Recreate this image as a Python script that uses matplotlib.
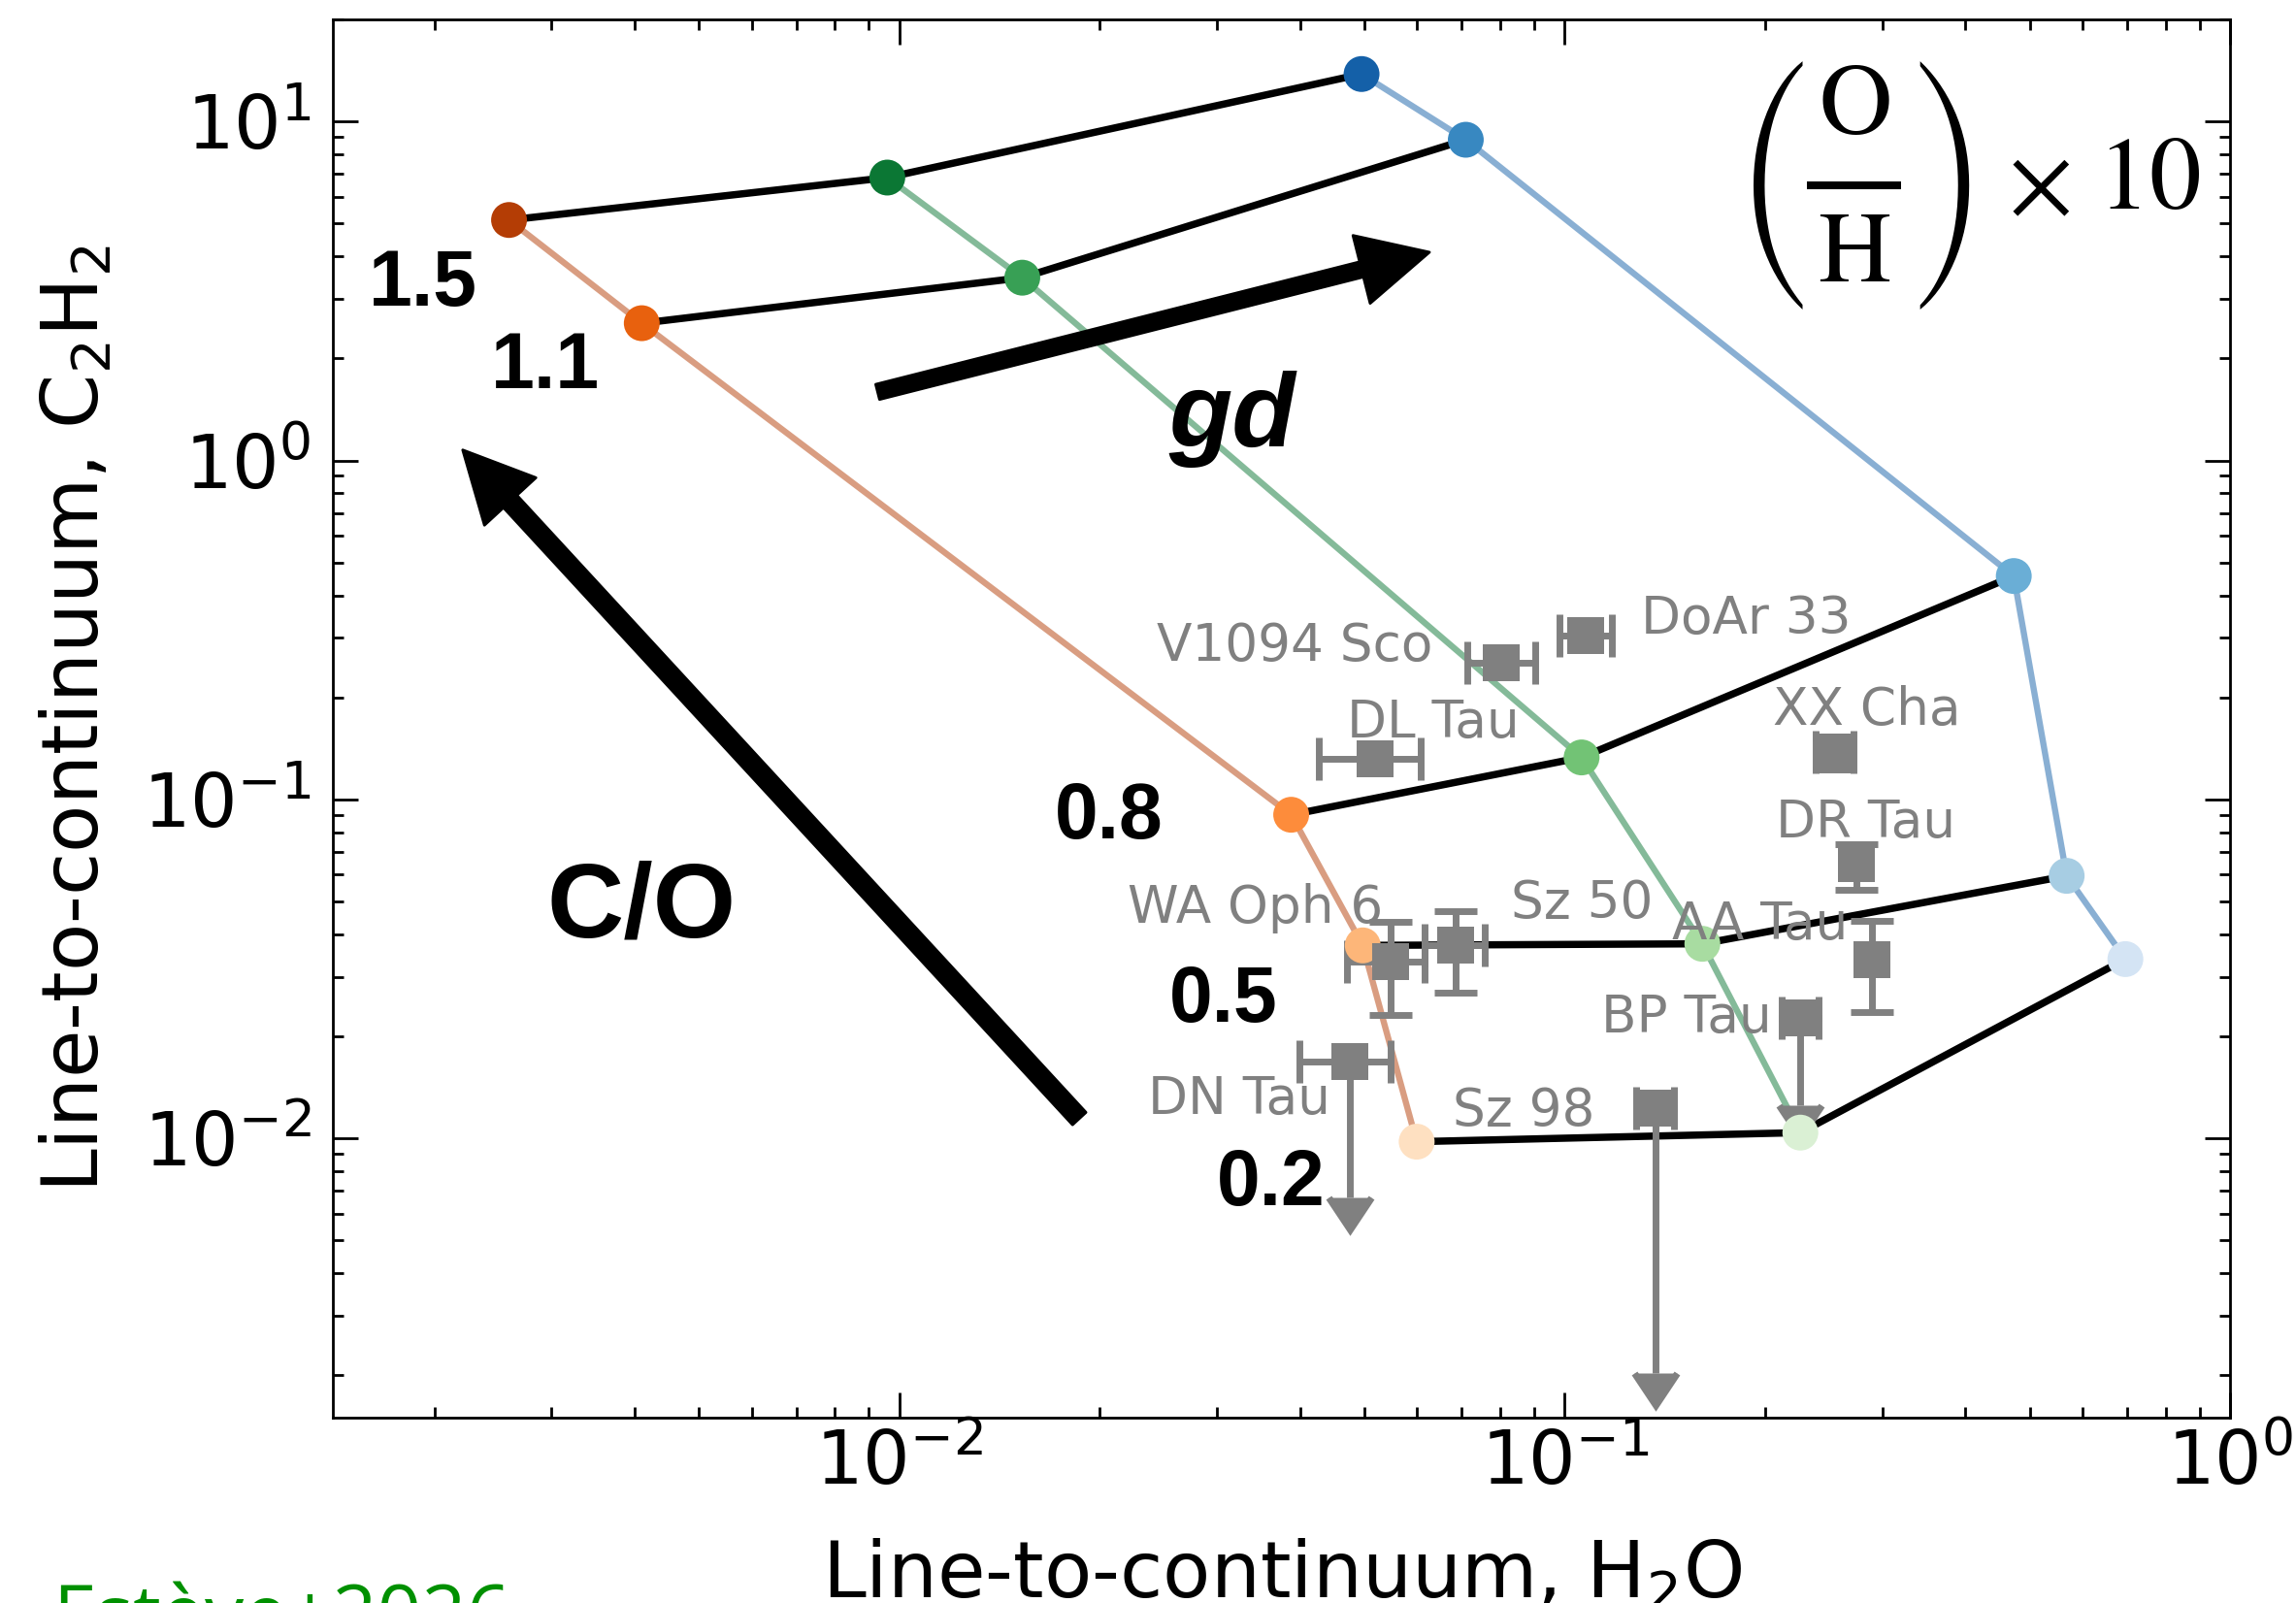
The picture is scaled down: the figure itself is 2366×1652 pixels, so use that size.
import matplotlib
matplotlib.use("Agg")
import matplotlib.pyplot as plt
from matplotlib.patches import FancyArrowPatch

# ---------------------------------------------------------------------------
# Model grid: one track per gas-to-dust ratio, one row per C/O ratio
# ---------------------------------------------------------------------------
co_labels = ["1.5", "1.1", "0.8", "0.5", "0.2"]

h2o_track_a = [0.00259, 0.00410, 0.0388, 0.0497, 0.0599]
c2h2_track_a = [5.12, 2.54, 0.0901, 0.0371, 0.00978]

h2o_track_b = [0.00959, 0.0153, 0.106, 0.161, 0.226]
c2h2_track_b = [6.83, 3.46, 0.133, 0.0375, 0.0104]

h2o_track_c = [0.0495, 0.0710, 0.473, 0.568, 0.696]
c2h2_track_c = [13.8, 8.83, 0.456, 0.0595, 0.0338]

# ---------------------------------------------------------------------------
# Observed sources (None = no error bar on that side)
# ---------------------------------------------------------------------------
source_names = ["V1094 Sco", "DoAr 33", "DL Tau", "XX Cha", "DR Tau",
                "WA Oph 6", "Sz 50", "AA Tau", "BP Tau", "DN Tau", "Sz 98"]
source_h2o = [0.0803, 0.1075, 0.0518, 0.254, 0.274,
              0.0548, 0.0685, 0.290, 0.2256, 0.0475, 0.1367]
source_h2o_lo = [0.0713, 0.0982, 0.0427, 0.238, None,
                 0.0470, 0.0616, None, 0.2115, 0.0399, 0.1282]
source_h2o_hi = [0.0902, 0.1176, 0.0608, 0.2716, None,
                 0.0616, 0.0759, None, 0.2406, 0.0548, 0.1458]
source_c2h2 = [0.2535, 0.305, 0.132, 0.138, 0.0647,
               0.0332, 0.0372, 0.0336, 0.0227, 0.0168, 0.01225]
source_c2h2_lo = [None, None, None, 0.1228, 0.0542,
                  0.0231, 0.0269, 0.0236, 0.01252, 0.00672, 0.00203]
source_c2h2_hi = [None, None, None, 0.1522, 0.0739,
                  0.0434, 0.0468, 0.0438, None, None, None]
source_upper_limit = [False, False, False, False, False,
                      False, False, False, True, True, True]

# ---------------------------------------------------------------------------
# Styling
# ---------------------------------------------------------------------------
track_colors = [
    ["#b43d05", "#e8610e", "#fd8c3b", "#fdb679", "#fee0c1"],   # oranges
    ["#0b7734", "#38a055", "#72c375", "#a8dca1", "#daf0d4"],   # greens
    ["#1460a8", "#3888c1", "#6aaed6", "#a7cde3", "#d4e4f4"],   # blues
]
gray = "#808080"
PX = 1.509 * 72 / 200.0          # label offsets below are given in 1/1.509 px

# offsets (dx, dy-down) of each source label from its point, and alignment
label_offsets = [(-47, -1), (38, -1), (-19, -14.5), (-42, -18.5), (-54.5, -17.7),
                 (-5.6, -26.6), (38, -18.2), (-16.4, -14), (-19.4, 10.1),
                 (-13.3, 35.5), (-41, 11.4)]
label_ha = ["right", "left", "left", "left", "left",
            "right", "left", "right", "right", "right", "right"]
# offsets of the C/O row labels from the orange-track points
co_offsets = [(-21.8, 58.6), (-28.9, 44.6), (-87.4, 15.8), (-58.2, 52), (-62.7, 43.3)]

plt.rcParams["font.family"] = ["DejaVu Sans"]
# tall delimiter glyphs for the abundance annotation
plt.rcParams["mathtext.rm"] = "STIXSizeThreeSym"

fig = plt.figure(figsize=(11.83, 8.26), dpi=200)
ax = fig.add_axes([0.1450, 0.1156, 0.8263, 0.8723])
ax.set_xscale("log")
ax.set_yscale("log")
ax.set_xlim(1.408e-3, 1.0)
ax.set_ylim(1.5e-3, 20.0)

tracks = [(h2o_track_a, c2h2_track_a), (h2o_track_b, c2h2_track_b),
          (h2o_track_c, c2h2_track_c)]

# coloured tracks (constant gas-to-dust ratio)
for (hx, cy), cols in zip(tracks, track_colors):
    ax.plot(hx, cy, color=cols[0], alpha=0.5, lw=2.3, zorder=1,
            solid_capstyle="round")

# black rows (constant C/O)
for i in range(len(co_labels)):
    ax.plot([t[0][i] for t in tracks], [t[1][i] for t in tracks],
            color="black", lw=2.7, zorder=1.5, solid_capstyle="round")

# grid points
for (hx, cy), cols in zip(tracks, track_colors):
    ax.scatter(hx, cy, s=13.3 ** 2, c=cols, edgecolors="none", zorder=3)

# observations
for i, name in enumerate(source_names):
    x, y = source_h2o[i], source_c2h2[i]
    xerr = None
    if source_h2o_lo[i] is not None:
        xerr = [[x - source_h2o_lo[i]], [source_h2o_hi[i] - x]]
    yerr = None
    if source_upper_limit[i]:
        yerr = [[y - source_c2h2_lo[i]], [0.0]]
    elif source_c2h2_lo[i] is not None:
        yerr = [[y - source_c2h2_lo[i]], [source_c2h2_hi[i] - y]]
    ax.errorbar([x], [y], xerr=xerr, yerr=yerr, fmt="none", ecolor=gray,
                color=gray, elinewidth=2.5, capsize=8, capthick=2.5,
                uplims=source_upper_limit[i], zorder=2)
ax.plot(source_h2o, source_c2h2, "s", color=gray, ms=13.5, mew=0,
        linestyle="none", zorder=4)

for i, name in enumerate(source_names):
    dx, dy = label_offsets[i]
    ax.annotate(name, (source_h2o[i], source_c2h2[i]),
                xytext=(dx * PX, -dy * PX), textcoords="offset points",
                ha=label_ha[i], va="baseline", fontsize=19.2, color=gray,
                zorder=5)

# C/O labels next to the first track
for i, lab in enumerate(co_labels):
    dx, dy = co_offsets[i]
    ax.annotate(lab, (h2o_track_a[i], c2h2_track_a[i]),
                xytext=(dx * PX, -dy * PX), textcoords="offset points",
                ha="right", va="baseline", fontsize=29, fontweight="bold",
                family="Liberation Sans", zorder=5)

# direction arrows
arrow_co = FancyArrowPatch((0.3934, 0.2139), (0.0684, 0.6921),
                           transform=ax.transAxes, mutation_scale=1,
                           arrowstyle="simple,head_length=26,head_width=26,tail_width=6.8",
                           color="black", shrinkA=0, shrinkB=0, zorder=5)
arrow_gd = FancyArrowPatch((0.2871, 0.7336), (0.5780, 0.8335),
                           transform=ax.transAxes, mutation_scale=1,
                           arrowstyle="simple,head_length=26,head_width=26,tail_width=5.8",
                           color="black", shrinkA=0, shrinkB=0, zorder=5)
ax.add_patch(arrow_co)
ax.add_patch(arrow_gd)

ax.text(0.1125, 0.3442, "C/O", transform=ax.transAxes, fontsize=39.5,
        fontweight="bold", family="Liberation Sans", ha="left", va="baseline")
ax.text(0.4405, 0.6945, "gd", transform=ax.transAxes, fontsize=38.5,
        fontweight="bold", fontstyle="italic", family="Liberation Sans",
        ha="left", va="baseline")

# (O/H) x 10 annotation, built from its pieces
oh_size = 37.5
oh_kw = dict(transform=ax.transAxes, fontsize=oh_size, ha="center", va="center")
ax.text(0.7568, 0.8810, r"$\mathrm{(}$", math_fontfamily="custom", **oh_kw)
ax.text(0.8473, 0.8810, r"$\mathrm{)}$", math_fontfamily="custom", **oh_kw)
ax.text(0.8021, 0.9382, r"$\mathrm{O}$", math_fontfamily="stix", **oh_kw)
ax.text(0.8018, 0.8321, r"$\mathrm{H}$", math_fontfamily="stix", **oh_kw)
ax.plot([0.7770, 0.8266], [0.8810, 0.8810], transform=ax.transAxes,
        color="black", lw=2.9, solid_capstyle="butt")
ax.text(0.8990, 0.8810, r"$\times$", math_fontfamily="stix", **oh_kw)
ax.text(0.9573, 0.8850, r"$10$", math_fontfamily="stix",
        **{**oh_kw, "fontsize": 38.5})

# axes cosmetics
ax.set_xlabel(r"Line-to-continuum, H$_2$O", fontsize=29, labelpad=14)
ax.set_ylabel(r"Line-to-continuum, C$_2$H$_2$", fontsize=29, labelpad=10)
ax.tick_params(which="both", direction="in", top=True, right=True, width=1.0)
ax.tick_params(which="major", length=9.5, labelsize=27.5)
ax.tick_params(which="minor", length=3.8)
ax.tick_params(axis="x", which="major", pad=4)
ax.tick_params(axis="y", which="major", pad=8)
for sp in ax.spines.values():
    sp.set_linewidth(1.0)

fig.text(0.0228, -0.0236, "Estève+2026", color="#009000", fontsize=29,
         family="Open Sans", ha="left", va="baseline")

fig.savefig("out.png", dpi=200)
